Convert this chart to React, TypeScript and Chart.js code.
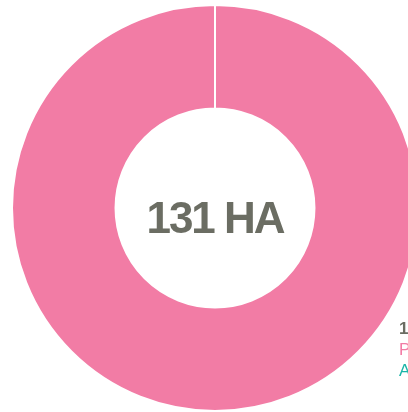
import React, { useEffect, useRef } from "react";
import { Chart, registerables } from "chart.js";

Chart.register(...registerables);

const categories = ["Prairies", "Autres"];
const values = [131, 0];
const colors = ["#f27ca5", "#1ab5a8"];
const totalLabel = "131 HA";
const legendTitle = "131 ha";

export default function App() {
  const ref = useRef<HTMLCanvasElement | null>(null);

  useEffect(() => {
    if (!ref.current) return;
    const chart = new Chart(ref.current, {
      type: "doughnut",
      data: {
        labels: categories,
        datasets: [
          {
            data: values,
            backgroundColor: colors,
            borderColor: "#ffffff",
            borderWidth: 2,
          },
        ],
      },
      options: {
        responsive: false,
        animation: false,
        cutout: "49%",
        plugins: {
          legend: { display: false },
          tooltip: { enabled: false },
        },
      },
    });
    return () => chart.destroy();
  }, []);

  return (
    <div
      style={{
        position: "fixed",
        left: 0,
        top: 0,
        width: 408,
        height: 412,
        overflow: "hidden",
        background: "#fff",
      }}
    >
      <canvas
        ref={ref}
        width={408}
        height={408}
        style={{ position: "absolute", left: 11, top: 4, width: 408, height: 408 }}
      />
      <div
        style={{
          position: "absolute",
          left: 15,
          top: 4,
          width: 400,
          height: 408,
          display: "flex",
          alignItems: "center",
          justifyContent: "center",
          pointerEvents: "none",
        }}
      >
        <span
          style={{
            fontFamily: "'Liberation Sans', Arial, sans-serif",
            fontWeight: 700,
            fontSize: 44,
            letterSpacing: -2,
            color: "#6b6d63",
            marginTop: 20,
          }}
        >
          {totalLabel}
        </span>
      </div>
      <div
        style={{
          position: "absolute",
          left: 399,
          top: 318,
          fontFamily: "'Liberation Sans', Arial, sans-serif",
          fontSize: 17,
          lineHeight: "21px",
          whiteSpace: "nowrap",
        }}
      >
        <div style={{ color: "#6b6d63", fontWeight: 700 }}>{legendTitle}</div>
        {categories.map((c, i) => (
          <div key={c} style={{ color: colors[i] }}>
            {c} {values[i]} ha
          </div>
        ))}
      </div>
    </div>
  );
}
